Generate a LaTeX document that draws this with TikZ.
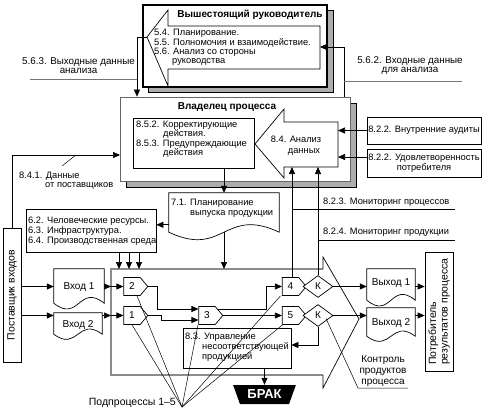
\documentclass[tikz,border=0pt]{standalone}
\usepackage{fontspec}
\setmainfont{Liberation Sans}
\usetikzlibrary{shapes.symbols,shapes.geometric,arrows.meta,calc}
\newcommand\dfs{\fontsize{9.3}{10}\selectfont}
\newcommand\dfl{\fontsize{9.8}{9}\selectfont}
\newcommand\dfr{\fontsize{10.5}{11.5}\selectfont}
\newcommand\dfb{\fontsize{10}{11}\selectfont\bfseries}
\newcommand\dfn{\fontsize{10}{11}\selectfont}
\newcommand\docshape[2]{\draw[ln,fill=white] (#1.north west) -- (#1.north east) -- (#1.south east) .. controls ($(#1.south)+(0,-#2)$) and ($(#1.south)+(0,#2)$) .. (#1.south west) -- cycle;}
\tikzset{
  ln/.style={line width=0.7pt},
  arr/.style={line width=0.7pt, -{Triangle[length=7pt,width=6pt]}},
  thinln/.style={line width=0.5pt},
  lbl/.style={font=\dfs, inner sep=0pt, anchor=west, text height=6.6pt, text depth=2pt},
  ctr/.style={font=\dfs, inner sep=0pt, text height=6.6pt, text depth=2pt},
  bigl/.style={font=\dfl, inner sep=0pt, align=center},
  box/.style={draw, line width=0.7pt, fill=white, inner sep=0pt},
  shade/.style={fill=black!32, draw=black, line width=0.7pt},
  subp/.style={signal, signal to=east, signal pointer angle=100, draw, fill=white, line width=0.7pt, minimum width=24pt, minimum height=18pt, inner sep=0pt, font=\dfn},
  kdia/.style={diamond, draw, fill=white, line width=0.7pt, minimum width=30pt, minimum height=22pt, inner sep=0pt, font=\dfn},
  frameln/.style={draw=black!45, line width=1.7pt},
  glabel/.style={draw=black!55, line width=0.9pt},
}
\begin{document}
\begin{tikzpicture}[x=1pt,y=-1pt]
\useasboundingbox (0,0) rectangle (485,412);
\fill[white] (0,0) rectangle (485,412);

% ---------- top manager ----------
\draw[shade] (148,10) rectangle (333,92);
\node[box, line width=1.3pt, minimum width=184pt, minimum height=82pt] (topbox) at (235,46) {};
\draw[ln, fill=white] (147,37) -- (168,10) -- (168,26) -- (320,26) -- (320,69) -- (168,69) -- (168,86) -- cycle;
\coordinate (toptip) at (147,37);
\coordinate (topin) at (320,47);
\node[font=\dfb, inner sep=0pt] (toptitle) at (250,15) {Вышестоящий руководитель};
\node[lbl] (t54) at (154,33) {5.4. Планирование.};
\node[lbl] (t55) at (154,43) {5.5. Полномочия и взаимодействие.};
\node[lbl] (t56) at (154,52) {5.6. Анализ со стороны};
\node[lbl] (t56b) at (172,61) {руководства};

% ---------- process owner ----------
\draw[shade] (126,103) rectangle (356,187);
\node[box, draw=black!60, minimum width=230pt, minimum height=84pt] (owner) at (235,139) {};
\node[font=\dfb, inner sep=0pt] (ownertitle) at (227,107) {Владелец процесса};
\node[box, minimum width=121pt, minimum height=50pt] (corr) at (193.5,143) {};
\node[lbl] (t852) at (136,125) {8.5.2. Корректирующие};
\node[lbl] (t852b) at (163,134) {действия.};
\node[lbl] (t853) at (136,144) {8.5.3. Предупреждающие};
\node[lbl] (t853b) at (163,153) {действия};
\draw[ln, fill=white] (255,144) -- (284,109) -- (284,122) -- (338,122) -- (338,167) -- (284,167) -- (284,178) -- cycle;
\coordinate (anR1) at (338,131);
\coordinate (anR2) at (338,157);
\coordinate (anB1) at (292,167);
\coordinate (anB2) at (318,167);
\node[ctr] (t84) at (296,140) {8.4. Анализ};
\node[ctr] (t84b) at (304,151) {данных};

% ---------- right boxes ----------
\node[box, font=\dfs, minimum width=114pt, minimum height=27pt] (audit) at (424,130.5) {8.2.2. Внутренние аудиты};
\node[box, font=\dfs, align=center, minimum width=114pt, minimum height=28pt] (sat) at (424,163) {8.2.2. Удовлетворенность\\потребителя};

% ---------- planning doc ----------
\node[inner sep=0pt, minimum width=110pt, minimum height=39pt] (plan) at (224,212.5) {};
\docshape{plan}{26}
\node[lbl] (t71) at (171,203) {7.1. Планирование};
\node[lbl] (t71b) at (190,213) {выпуска продукции};

% ---------- resources ----------
\node[box, minimum width=130pt, minimum height=43pt] (res) at (91,230.5) {};
\node[lbl] (t62) at (28,221) {6.2. Человеческие ресурсы.};
\node[lbl] (t63) at (28,231) {6.3. Инфраструктура.};
\node[lbl] (t64) at (28,241) {6.4. Производственная среда};

% ---------- process frame ----------
\coordinate (fTL) at (111,269);
\coordinate (fTR) at (323,269);
\coordinate (fH1) at (323,257);
\coordinate (fTip) at (359,319);
\coordinate (fH2) at (323,388);
\coordinate (fBR) at (323,375);
\coordinate (fBL) at (111,375);
\draw[frameln] (fTR) -- (fTL) -- (fBL) -- (fBR);
\draw[ln] (fTR) -- (fH1) -- (fTip) -- (fH2) -- (fBR);

% ---------- supplier / consumer ----------
\node[box, minimum width=18pt, minimum height=134pt] (sup) at (12,295) {};
\node[font=\dfr, rotate=90, inner sep=0pt] (supt) at (sup.center) {Поставщик входов};
\node[box, minimum width=28pt, minimum height=119pt] (cons) at (439,311.5) {};
\node[font=\dfr, rotate=90, align=left, inner sep=0pt] (const) at (cons.center) {Потребитель\\результатов процесса};

% ---------- inputs / outputs ----------
\node[inner sep=0pt, minimum width=50pt, minimum height=34pt] (in1) at (79,286) {};
\docshape{in1}{20}
\node[ctr, font=\dfn] (in1t) at (79,287) {Вход 1};
\node[inner sep=0pt, minimum width=48pt, minimum height=21pt] (in2) at (78,323.5) {};
\docshape{in2}{18}
\node[ctr, font=\dfn] (in2t) at (78,325) {Вход 2};
\node[inner sep=0pt, minimum width=48pt, minimum height=31pt] (out1) at (391,284.5) {};
\docshape{out1}{20}
\node[ctr, font=\dfn] (out1t) at (391,283) {Выход 1};
\node[inner sep=0pt, minimum width=48pt, minimum height=28pt] (out2) at (391,322) {};
\docshape{out2}{18}
\node[ctr, font=\dfn] (out2t) at (391,323) {Выход 2};

% ---------- subprocesses ----------
\node[subp] (n2) at (132,286.5) {2};
\node[subp] (n1) at (132,315.5) {1};
\node[subp] (n3) at (207,315.5) {3};
\node[subp] (n4) at (290.5,286.5) {4};
\node[subp] (n5) at (290.5,315.5) {5};
\node[kdia] (k1) at (318,286.5) {К};
\node[kdia] (k2) at (318,315.5) {К};

\node[box, minimum width=108pt, minimum height=40pt] (nc) at (237,348) {};
\node[lbl] (t83) at (185,337) {8.3. Управление};
\node[lbl] (t83b) at (202,347) {несоответствующей};
\node[lbl] (t83c) at (202,357) {продукцией};

\node[trapezium, trapezium angle=62, shape border rotate=180, trapezium stretches=true, fill=black, text=white, font=\fontsize{13}{14}\selectfont\bfseries, minimum width=63pt, minimum height=19pt, inner sep=0pt] (brak) at (264.5,394.5) {БРАК};

% ---------- connectors ----------
\coordinate (c563) at (137,79);
\coordinate (l563) at (30,79);
\draw[arr] (toptip) -| (owner.north -| c563);
\draw[glabel] (l563) -- (c563);
\coordinate (c562) at (344,81);
\coordinate (l562) at (462,81);
\draw[arr] (owner.north -| c562) |- (topin);
\draw[glabel] (c562) -- (l562);

\coordinate (o841) at (120,155);
\draw[arr] (sup.north) |- (o841);
\coordinate (s841a) at (62,166);
\coordinate (s841b) at (76,155);
\draw[thinln] (s841a) -- (s841b);

\draw[arr] (audit.west) -- (audit.west -| anR1);
\draw[arr] (sat.west |- anR2) -- (anR2);
\draw[arr] (n4.north -| anB1) -- (anB1);
\draw[arr] (k1.north) -- (anB2);
\coordinate (m823) at (292,209);
\coordinate (m823e) at (455,209);
\coordinate (m824) at (318,240);
\coordinate (m824e) at (455,240);
\draw[ln] (m823) -- (m823e);
\draw[ln] (m824) -- (m824e);

\draw[arr] (plan.north |- corr.south) -- (plan.north);
\coordinate (a71) at ($(plan.north west)+(0,32)$);
\draw[arr] (a71) -- (a71 -| res.east);
\draw[arr] (plan.south) -- (plan.south |- fTL);
\foreach \xx/\nm in {119/rA,129/rB,139/rC}{
  \coordinate (\nm) at (\xx,269);
  \draw[arr] (res.south -| \nm) -- (\nm);
}

\draw[arr] (sup.east |- n2.west) -- (in1.west |- n2.west);
\draw[arr] (sup.east |- n1.west) -- (in2.west |- n1.west);
\draw[arr] (in1.east |- n2.west) -- (fTL |- n2.west);
\draw[arr] (fTL |- n2.west) -- (n2.west);
\draw[arr] (in2.east |- n1.west) -- (fTL |- n1.west);
\draw[arr] (fTL |- n1.west) -- (n1.west);

\draw[arr] (n2.east) -- ++(9,0) |- ($(n3.west)+(0,-6.5)$);
\draw[arr] (n1.east) -- ++(13,0) |- ($(n3.west)+(0,4.5)$);
\draw[arr] ($(n3.east)+(-5,-6.5)$) -- ++(48,0) |- (n4.west);
\draw[arr] (n3.east) -- (n5.west);
\draw[arr] (k1.east) -- (out1.west |- k1.east);
\draw[arr] (k2.east) -- (out2.west |- k2.east);
\draw[arr] (out1.east |- k1.east) -- (cons.west |- k1.east);
\draw[arr] (out2.east |- k2.east) -- (cons.west |- k2.east);
\draw[arr] (k2.south) |- ($(nc.east)+(0,-3)$);
\draw[arr] (nc.south -| brak.north) -- (brak.north);

% ---------- leaders ----------
\coordinate (pp) at (182,407);
\draw[thinln] (pp) -- (n1.south);
\draw[thinln] (pp) -- ($(n2.south)+(5,0)$);
\draw[thinln] (pp) -- ($(n3.south)+(-9,0)$);
\draw[thinln] (pp) -- ($(n4.south)+(-10,0)$);
\draw[thinln] (pp) -- ($(n5.south)+(-8,0)$);
\coordinate (ku) at (358,388);
\coordinate (kue) at (408,388);
\draw[thinln] ($(k2.center)+(8,3)$) -- (ku) -- (kue);

% ---------- labels ----------
\node[bigl] (l1) at (78.5,66) {5.6.3. Выходные данные\\анализа};
\node[bigl] (l2) at (410,66) {5.6.2. Входные данные\\для анализа};
\node[lbl] (l3) at (19,176) {8.4.1. Данные};
\node[lbl] (l3b) at (45,185) {от поставщиков};
\node[lbl] (l4) at (323,202) {8.2.3. Мониторинг процессов};
\node[lbl] (l5) at (323,232) {8.2.4. Мониторинг продукции};
\node[ctr, font=\dfn] (l6) at (383,360) {Контроль};
\node[ctr, font=\dfn] (l6b) at (383,371) {продуктов};
\node[ctr, font=\dfn] (l6c) at (383,382) {процесса};
\node[lbl, font=\dfr, anchor=east] (l7) at (176,403) {Подпроцессы 1–5};
\end{tikzpicture}
\end{document}
